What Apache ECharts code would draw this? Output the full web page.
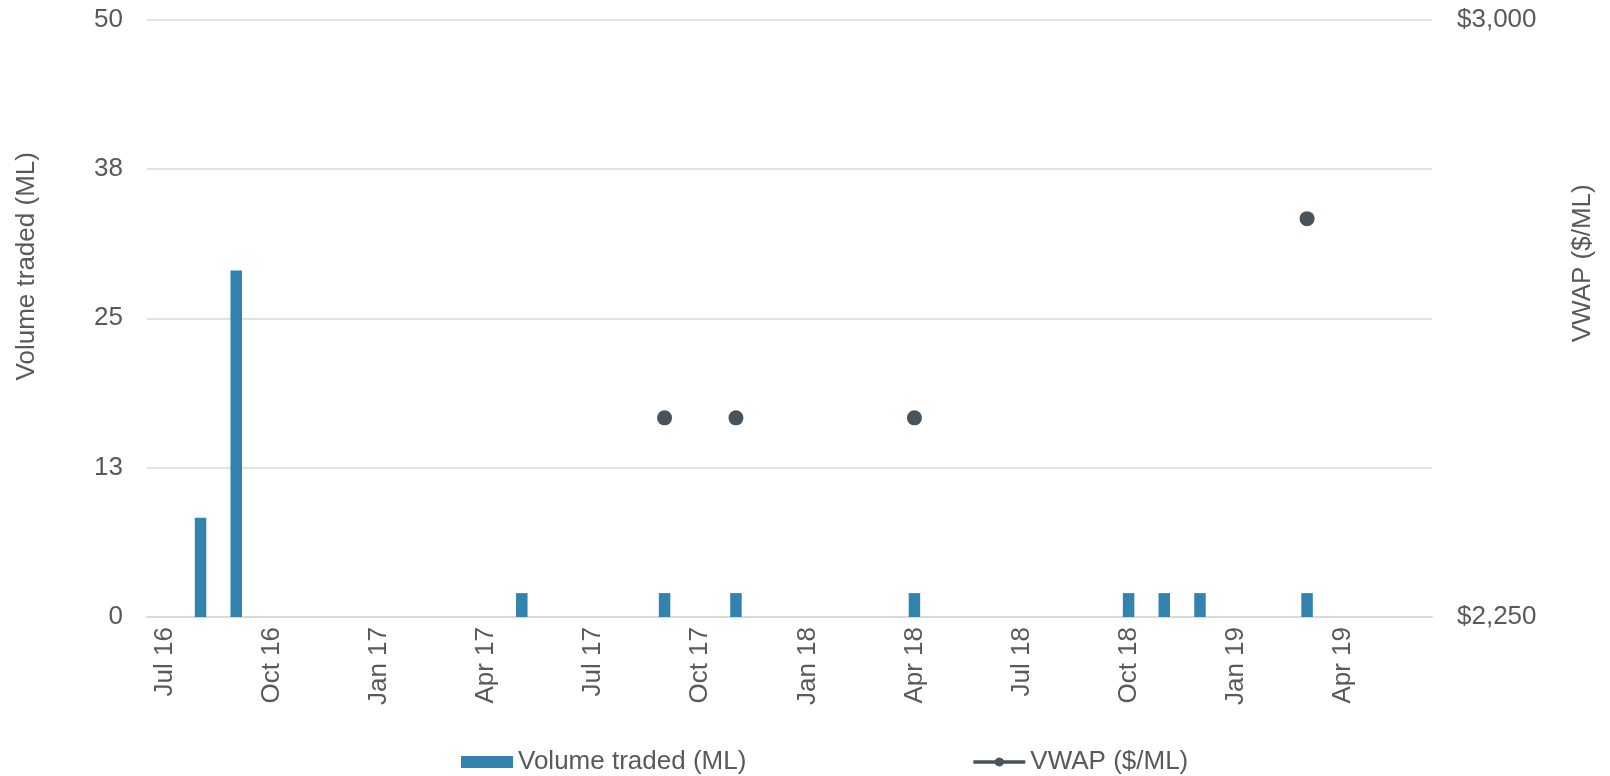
<!DOCTYPE html>
<html>
<head>
<meta charset="utf-8">
<script src="https://cdn.jsdelivr.net/npm/echarts@6/dist/echarts.min.js"></script>
<style>
html,body{margin:0;padding:0;background:#fff;}
#chart{width:1610px;height:776px;}
</style>
</head>
<body>
<div id="chart"></div>
<script>
const categories = ['Jul 16','Aug 16','Sep 16','Oct 16','Nov 16','Dec 16','Jan 17','Feb 17','Mar 17','Apr 17','May 17','Jun 17','Jul 17','Aug 17','Sep 17','Oct 17','Nov 17','Dec 17','Jan 18','Feb 18','Mar 18','Apr 18','May 18','Jun 18','Jul 18','Aug 18','Sep 18','Oct 18','Nov 18','Dec 18','Jan 19','Feb 19','Mar 19','Apr 19','May 19','Jun 19'];
const volumeTraded = [0,8.3,29,0,0,0,0,0,0,0,2,0,0,0,2,0,2,0,0,0,0,2,0,0,0,0,0,2,2,2,0,0,2,0,0,0];
const vwap = [null,null,null,null,null,null,null,null,null,null,null,null,null,null,2500,null,2500,null,null,null,null,2500,null,null,null,null,null,null,null,null,null,null,2750,null,null,null];
const leftTicks = {min:0, max:50, interval:12.5};
const rightTicks = {min:2250, max:3000, interval:187.5};

const font = 'Liberation Sans, Arial, sans-serif';
const textColor = '#595959';
const chart = echarts.init(document.getElementById('chart'));
chart.setOption({
  animation:false,
  backgroundColor:'#fff',
  textStyle:{fontFamily:font},
  grid:{left:147,right:178,top:19.5,bottom:159,containLabel:false},
  legend:{
    left:456, top:744, itemGap:227, itemWidth:52, itemHeight:12,
    textStyle:{fontSize:26,color:textColor,fontFamily:font},
    data:[
      {name:'Volume traded (ML)',icon:'rect'},
      {name:'VWAP ($/ML)',icon:'path://M0,4.2L21.6,4.2A5,5 0 0,1 30.4,4.2L52,4.2L52,7.8L30.4,7.8A5,5 0 0,1 21.6,7.8L0,7.8Z M0,0h0.01v0.01h-0.01z M0,12h0.01v0.01h-0.01z',
       itemStyle:{color:'#48535B',borderWidth:0}}
    ]
  },
  xAxis:{
    type:'category', data:categories, boundaryGap:true,
    axisLine:{lineStyle:{color:'#D9D9D9',width:2}},
    axisTick:{show:false},
    axisLabel:{interval:2,rotate:90,margin:10,fontSize:26,color:textColor,fontFamily:font}
  },
  yAxis:[{
    type:'value', min:leftTicks.min, max:leftTicks.max, interval:leftTicks.interval,
    name:'Volume traded (ML)', nameLocation:'middle', nameGap:107, nameRotate:90,
    nameTextStyle:{fontSize:26,color:textColor,fontFamily:font,padding:[0,0,0,104]},
    axisLine:{show:false}, axisTick:{show:false},
    axisLabel:{margin:24,fontSize:26,color:textColor,fontFamily:font,formatter:v=>String(Math.round(v))},
    splitLine:{lineStyle:{color:'#D9D9D9',width:1.5}}
  },{
    type:'value', min:rightTicks.min, max:rightTicks.max, interval:rightTicks.interval,
    name:'VWAP ($/ML)', nameLocation:'middle', nameGap:138, nameRotate:90,
    nameTextStyle:{fontSize:26,color:textColor,fontFamily:font,padding:[0,0,0,110]},
    axisLine:{show:false}, axisTick:{show:false},
    axisLabel:{margin:25,fontSize:26,color:textColor,fontFamily:font,
      formatter:v=>(v===rightTicks.min||v===rightTicks.max)?'$'+v.toLocaleString('en-US'):''},
    splitLine:{show:false}
  }],
  series:[{
    name:'Volume traded (ML)', type:'bar', yAxisIndex:0, data:volumeTraded,
    barWidth:11.5, itemStyle:{color:'#3283AD'}
  },{
    name:'VWAP ($/ML)', type:'line', yAxisIndex:1, data:vwap,
    connectNulls:false, symbol:'circle', symbolSize:15, showSymbol:true,
    itemStyle:{color:'#48535B'}, lineStyle:{color:'#48535B',width:4}
  }]
});
</script>
</body>
</html>
